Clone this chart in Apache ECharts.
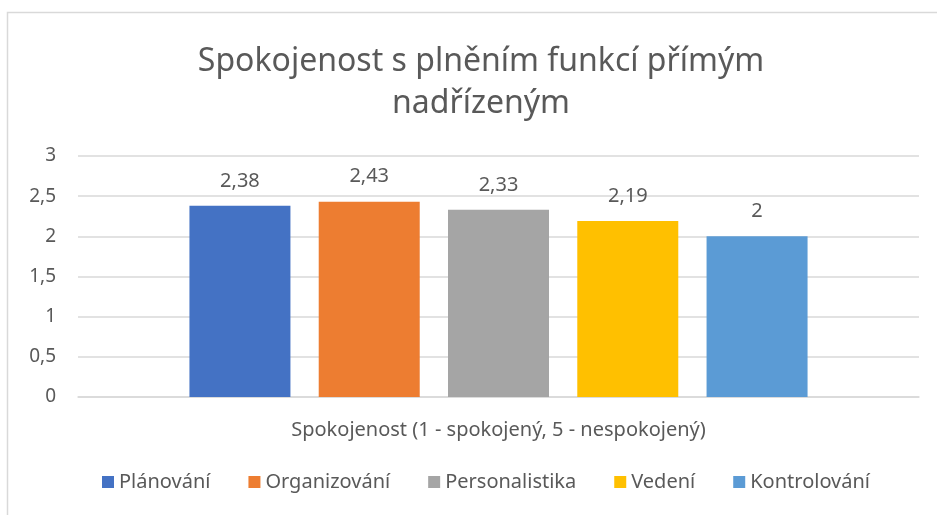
<!DOCTYPE html>
<html>
<head>
    <meta charset="UTF-8">
    <title>Spokojenost s plněním funkcí přímým nadřízeným</title>
    <script src="https://cdn.jsdelivr.net/npm/echarts@6/dist/echarts.min.js"></script>
    <style>
        html, body { margin: 0; padding: 0; background: #fff; }
        #main { width: 937px; height: 515px; }
    </style>
</head>
<body>
    <div id="main"></div>
    <script>
        // data
        const categories = ['Spokojenost (1 - spokojený, 5 - nespokojený)'];
        const seriesNames = ['Plánování', 'Organizování', 'Personalistika', 'Vedení', 'Kontrolování'];
        const seriesValues = [[2.38], [2.43], [2.33], [2.19], [2]];
        const colors = ['#4472C4', '#ED7D31', '#A5A5A5', '#FFC000', '#5B9BD5'];

        const fontFamily = '"Noto Sans", "DejaVu Sans", sans-serif';
        const textColor = '#595959';
        const fmt = v => String(v).replace('.', ',');

        const chart = echarts.init(document.getElementById('main'));
        chart.setOption({
            animation: false,
            color: colors,
            textStyle: { fontFamily: fontFamily },
            title: {
                text: 'Spokojenost s plněním funkcí přímým\nnadřízeným',
                left: 476,
                textAlign: 'center',
                top: 36,
                textStyle: {
                    fontFamily: fontFamily,
                    fontSize: 32,
                    fontWeight: 'normal',
                    color: textColor,
                    lineHeight: 42
                }
            },
            graphic: [{
                type: 'rect',
                shape: { x: 7.5, y: 12.5, width: 960, height: 540 },
                style: { fill: 'none', stroke: '#d9d9d9', lineWidth: 1.5 },
                silent: true
            }],
            legend: {
                bottom: 18,
                left: 97,
                icon: 'rect',
                itemWidth: 12,
                itemHeight: 12,
                itemGap: 38,
                textStyle: { fontFamily: fontFamily, fontSize: 20, color: textColor },
                data: seriesNames
            },
            grid: { left: 78, right: 18, top: 156, bottom: 118 },
            xAxis: {
                type: 'category',
                data: categories,
                axisLine: { lineStyle: { color: '#d9d9d9', width: 1.5 } },
                axisTick: { show: false },
                axisLabel: { fontFamily: fontFamily, fontSize: 20, color: textColor, margin: 23 }
            },
            yAxis: {
                type: 'value',
                min: 0,
                max: 3,
                interval: 0.5,
                axisLine: { show: false },
                axisTick: { show: false },
                splitLine: { lineStyle: { color: '#d9d9d9', width: 1.5 } },
                axisLabel: {
                    fontFamily: fontFamily,
                    fontSize: 19,
                    color: textColor,
                    margin: 22,
                    formatter: fmt
                }
            },
            series: seriesNames.map((name, i) => ({
                name: name,
                type: 'bar',
                data: seriesValues[i],
                barWidth: 101,
                barGap: '28%',
                label: {
                    show: true,
                    position: 'top',
                    distance: 15,
                    fontFamily: fontFamily,
                    fontSize: 20,
                    color: textColor,
                    formatter: p => fmt(p.value)
                }
            }))
        });
    </script>
</body>
</html>
